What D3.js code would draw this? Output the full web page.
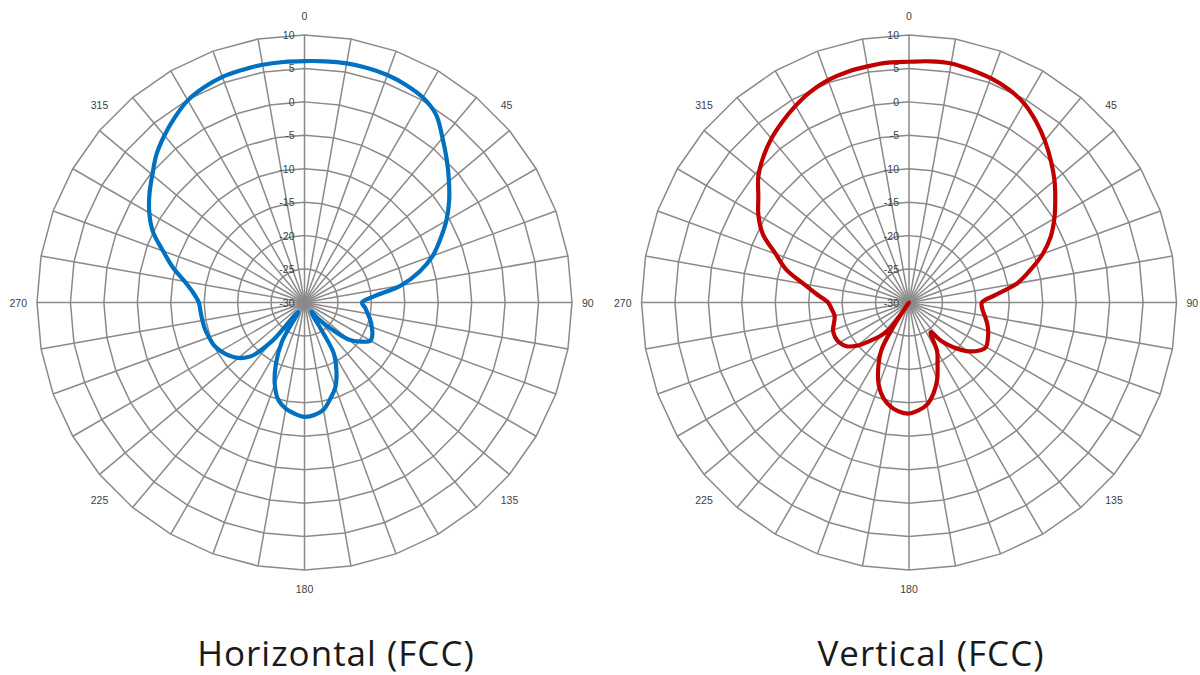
<!DOCTYPE html>
<html>
<head>
<meta charset="utf-8">
<script src="https://cdn.jsdelivr.net/npm/d3@7"></script>
<style>
  html, body { margin: 0; padding: 0; background: #ffffff; }
  svg { display: block; }
</style>
</head>
<body>
<svg id="chart" width="1200" height="675"></svg>
<script>
// ---- data ----
const ringTicks = [-30, -25, -20, -15, -10, -5, 0, 5, 10];
const angleLabels = [0, 45, 90, 135, 180, 225, 270, 315];
const spokeAngles = d3.range(0, 360, 10);

const horizAngles = [0,5,10,15,20,25,30,35,40,45,50,55,60,65,70,75,80,85,90,95,100,105,110,115,120,125,130,135,140,144,150,155,160,165,170,175,180,185,190,195,200,205,210,214,220,225,230,235,240,245,250,255,260,265,270,275,280,285,290,295,300,305,310,315,320,325,330,335,340,345,350,355];
const horizValues = [6.1,6.2,6.3,6.3,6.2,5.9,5.4,4.3,2.1,0.1,-1.8,-3.6,-5.5,-7.6,-9.6,-12.2,-15.4,-19.6,-21.4,-20.9,-20.4,-19.8,-19.3,-18.8,-18.6,-19.8,-21.4,-24.5,-26.8,-28.3,-21.3,-18.7,-16.5,-15.1,-13.7,-13.1,-12.9,-13.3,-13.9,-14.9,-17.0,-19.9,-23.3,-28.3,-22.5,-18.6,-17.1,-16.2,-15.5,-15.0,-14.8,-14.6,-14.5,-14.4,-14.2,-13.3,-11.8,-9.6,-7.5,-5.0,-3.2,-1.7,-0.3,1.3,2.6,3.8,4.9,5.5,5.9,6.0,6.1,6.1];

const vertAngles = [0,5,10,15,20,25,30,35,40,45,50,55,60,65,70,75,80,85,90,95,100,105,110,115,120,125,130,135,140,144,150,155,160,165,170,175,180,185,190,195,200,205,210,213,214.5,216,220,225,230,235,240,245,250,255,260,265,270,275,280,285,290,295,300,305,310,315,320,325,330,335,340,345,350,355];
const vertValues = [6.0,6.2,6.3,6.0,5.7,5.2,4.4,3.1,1.6,0.0,-1.6,-3.3,-4.9,-6.6,-8.7,-11.2,-13.6,-17.0,-19.1,-19.0,-18.5,-17.9,-17.4,-17.0,-16.7,-17.4,-18.7,-20.5,-22.5,-24.5,-21.6,-19.9,-17.7,-15.9,-14.5,-13.8,-13.4,-13.6,-14.2,-15.2,-16.8,-19.1,-21.7,-25.5,-30,-25.2,-23.6,-22.0,-20.0,-18.6,-18.0,-17.8,-17.9,-18.4,-18.7,-18.4,-17.9,-16.2,-14.0,-11.0,-8.8,-5.9,-4.0,-2.5,-0.6,0.8,2.0,3.0,3.95,4.8,5.4,5.7,5.85,6.0];

const titles = ["Horizontal (FCC)", "Vertical (FCC)"];

// ---- layout ----
const R = 267.5;
const charts = [
  { cx: 304.5, cy: 302.5, angles: horizAngles, values: horizValues, color: "#0070C0", title: titles[0], tx: 336 },
  { cx: 909,   cy: 302.5, angles: vertAngles,  values: vertValues,  color: "#C00000", title: titles[1], tx: 931 }
];

const svg = d3.select("#chart");
const r = d3.scaleLinear().domain([-30, 10]).range([0, R]);
const rad = a => a * Math.PI / 180;
const gridColor = "#8a8a8a";
const labelFont = "Liberation Sans, Arial, sans-serif";

charts.forEach(c => {
  const g = svg.append("g").attr("transform", `translate(${c.cx},${c.cy})`);

  // ring polygons (36-gon)
  ringTicks.filter(t => t > -30).forEach(t => {
    const pts = spokeAngles.map(a => [r(t) * Math.sin(rad(a)), -r(t) * Math.cos(rad(a))]);
    g.append("polygon")
      .attr("points", pts.map(p => p.join(",")).join(" "))
      .attr("fill", "none")
      .attr("stroke", gridColor)
      .attr("stroke-width", 1.5);
  });

  // spokes
  g.selectAll("line.spoke").data(spokeAngles).join("line")
    .attr("class", "spoke")
    .attr("x1", 0).attr("y1", 0)
    .attr("x2", a => r(10) * Math.sin(rad(a)))
    .attr("y2", a => -r(10) * Math.cos(rad(a)))
    .attr("stroke", gridColor)
    .attr("stroke-width", 1.5);

  // ring value labels
  g.selectAll("text.rlab").data(ringTicks).join("text")
    .attr("class", "rlab")
    .attr("x", -10)
    .attr("y", t => -r(t))
    .attr("text-anchor", "end")
    .attr("dominant-baseline", "central")
    .attr("font-family", labelFont)
    .attr("font-size", 10.5)
    .attr("fill", "#404040")
    .text(t => String(t));

  // angle labels
  const al = g.selectAll("text.alab").data(angleLabels).join("text")
    .attr("class", "alab")
    .attr("text-anchor", "middle")
    .attr("dominant-baseline", "central")
    .attr("font-family", labelFont)
    .attr("font-size", 10.5)
    .attr("fill", "#404040")
    .text(a => a);
  al.each(function(a) {
    const hw = this.getComputedTextLength() / 2;
    const s = Math.sin(rad(a)), co = Math.cos(rad(a));
    const sx = Math.abs(s) < 1e-6 ? 0 : Math.sign(s);
    let x = 277.5 * s + hw * sx;
    let y = -279 * co;
    if (Math.abs(co) > 0.99) y -= Math.sign(co) * 7.5;
    d3.select(this).attr("x", x).attr("y", y);
  });

  // pattern curve
  const pts = c.angles.map((a, i) => ({ a: a, v: c.values[i] }));
  const line = d3.lineRadial()
    .angle(d => rad(d.a))
    .radius(d => r(d.v))
    .curve(d3.curveCatmullRomClosed.alpha(0.5));
  g.append("path")
    .attr("d", line(pts))
    .attr("fill", "none")
    .attr("stroke", c.color)
    .attr("stroke-width", 4.2)
    .attr("stroke-linejoin", "round");

  // title
  svg.append("text")
    .attr("x", c.tx)
    .attr("y", 666)
    .attr("text-anchor", "middle")
    .attr("font-family", "'Open Sans', Lato, sans-serif")
    .attr("font-size", 35)
    .attr("letter-spacing", 1)
    .attr("fill", "#1a1a1a")
    .text(c.title);
});
</script>
</body>
</html>
